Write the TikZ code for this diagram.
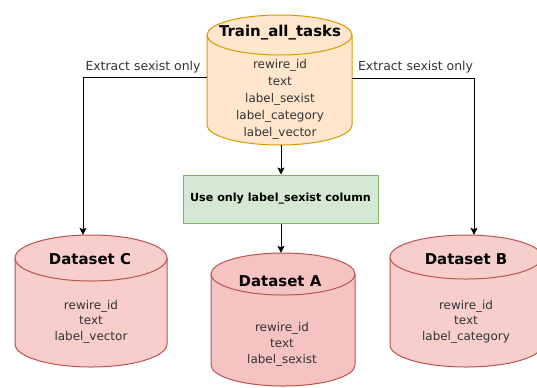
\documentclass[tikz,border=0pt]{standalone}
\usepackage{fontspec}
\setmainfont{DejaVu Sans}
\usetikzlibrary{arrows.meta,calc}

\definecolor{orfill}{HTML}{FFE6CC}
\definecolor{ordraw}{HTML}{D79B00}
\definecolor{rdfill}{HTML}{F8CECC}
\definecolor{rdfillA}{HTML}{F5C3C1}
\definecolor{rddraw}{HTML}{B85450}
\definecolor{grfill}{HTML}{D5E8D4}
\definecolor{grdraw}{HTML}{82B366}
\definecolor{bodytext}{HTML}{333333}

% drum: #1 name, #2 left x, #3 right x, #4 top y, #5 bottom y, #6 ellipse half-height, #7 fill, #8 stroke
\newcommand\drum[8]{%
  \pgfmathsetmacro\drx{(#3-#2)/2}%
  \pgfmathsetmacro\dya{#4+#6}%
  \pgfmathsetmacro\dyb{#5-#6}%
  \filldraw[fill=#7, draw=#8, line width=1bp]
    (#2,\dya) -- (#2,\dyb)
    arc[start angle=180, end angle=0, x radius=\drx, y radius=#6]
    -- (#3,\dya)
    arc[start angle=0, end angle=-180, x radius=\drx, y radius=#6] -- cycle;
  \draw[#8, line width=1bp] (#2,\dya)
    arc[start angle=180, end angle=0, x radius=\drx, y radius=#6];
  \node[inner sep=0pt, minimum width={(#3-#2)*1bp}, minimum height={(#5-#4)*1bp}]
    (#1) at ({(#2+#3)/2},{(#4+#5)/2}) {};
}

\tikzset{
  title/.style={font=\fontsize{15}{18}\selectfont\bfseries, text=black, inner sep=0pt},
  fields/.style={font=\fontsize{12}{#1}\selectfont, text=bodytext, align=center, inner sep=0pt},
  lbl/.style={font=\fontsize{12.5}{15}\selectfont, text=bodytext, inner sep=0pt},
  link/.style={line width=1bp, draw=black, -{Stealth[length=7bp, width=7bp, inset=1.5bp]}},
  stepbox/.style={draw=grdraw, fill=grfill, line width=1bp, inner sep=0pt,
    minimum width=195bp, minimum height=48bp,
    font=\fontsize{11.2}{14}\selectfont\bfseries, text=black},
}

\begin{document}
\begin{tikzpicture}[x=1bp, y=-1bp]
  \clip (0,0) rectangle (537,387);
  \fill[white] (0,0) rectangle (537,387);

  % source table
  \drum{T}{207}{352}{15}{145}{20}{orfill}{ordraw}
  \node[title] (Ttitle) at (280,33) {Train\_all\_tasks};
  \node[fields=17] (Tfields) at (280,99)
    {rewire\_id\\text\\label\_sexist\\label\_category\\label\_vector};

  % filtering step
  \node[stepbox] (S) at (280.5,199) {Use only label\_sexist column};

  % derived datasets
  \drum{C}{15}{167}{235}{367}{23}{rdfill}{rddraw}
  \node[title] (Ctitle) at (90,259) {Dataset C};
  \node[fields=15.5] (Cfields) at (91,321.5) {rewire\_id\\text\\label\_vector};

  \drum{A}{211}{355}{253}{386}{21}{rdfillA}{rddraw}
  \node[title] (Atitle) at (280,281) {Dataset A};
  \node[fields=16] (Afields) at (282,344) {rewire\_id\\text\\label\_sexist};

  \drum{B}{390}{542}{235}{367}{22}{rdfill}{rddraw}
  \node[title] (Btitle) at (466,259) {Dataset B};
  \node[fields=15.5] (Bfields) at (466,321.5) {rewire\_id\\text\\label\_category};

  % connectors
  \coordinate (Lturn) at (83,77);
  \coordinate (Rturn) at (474,78);
  \draw[link] (T.west |- Lturn) -- (Lturn) -- (Lturn |- C.north);
  \draw[link] (T.east |- Rturn) -- (Rturn) -- (Rturn |- B.north);
  \draw[link] (T.south -| 281,0) -- (S.north -| 281,0);
  \draw[link] (S.south -| 281,0) -- (A.north -| 281,0);

  \node[lbl, anchor=base] (Llabel) at (143,70) {Extract sexist only};
  \node[lbl, anchor=base] (Rlabel) at (415.5,70) {Extract sexist only};
\end{tikzpicture}
\end{document}
